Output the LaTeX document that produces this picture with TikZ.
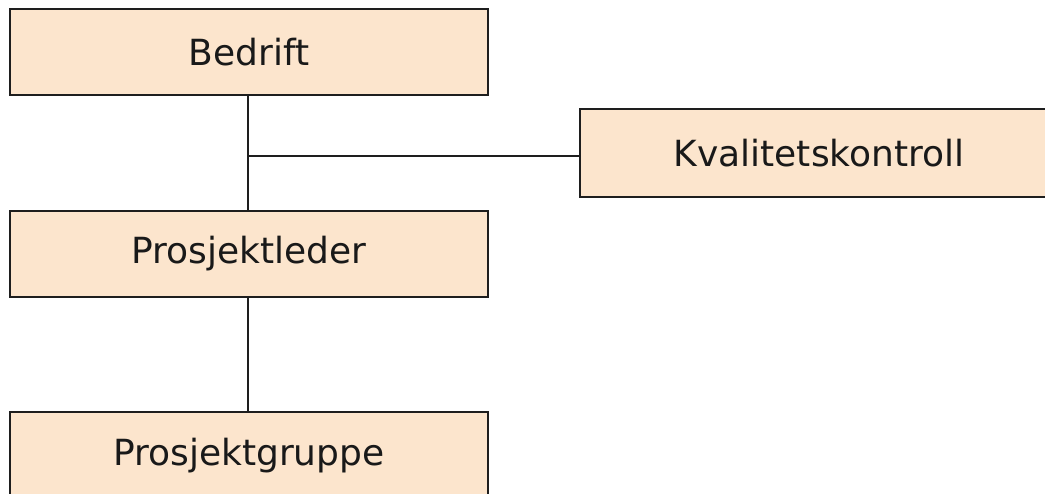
\documentclass[tikz,border=0pt]{standalone}
\usepackage{fontspec}
\setmainfont{DejaVu Sans}
\definecolor{boxfill}{RGB}{252,229,205}
\definecolor{boxline}{RGB}{30,30,30}
\tikzset{
  orgbox/.style={draw=boxline, line width=1.8pt, fill=boxfill, minimum width=478pt, minimum height=86pt, inner sep=0pt, anchor=center, font=\fontsize{36}{42}\selectfont, text=black!90},
  link/.style={draw=boxline, line width=1.8pt}
}
\begin{document}
\begin{tikzpicture}[x=1pt,y=-1pt]
\useasboundingbox (0,0) rectangle (1045,494);
\clip (0,0) rectangle (1045,494);
\fill[white] (0,0) rectangle (1045,494);
\node[orgbox] (bed) at (249,52) {Bedrift};
\node[orgbox, minimum height=88pt] (kv) at (819,153) {Kvalitetskontroll};
\node[orgbox] (pl) at (249,254) {Prosjektleder};
\node[orgbox, minimum height=88pt] (pg) at (249,456) {Prosjektgruppe};
\coordinate (j) at (248,156);
\draw[link] (bed.south -| j) -- (pl.north -| j);
\draw[link] (pl.south -| j) -- (pg.north -| j);
\draw[link] (j) -- (j -| kv.west);
\end{tikzpicture}
\end{document}
